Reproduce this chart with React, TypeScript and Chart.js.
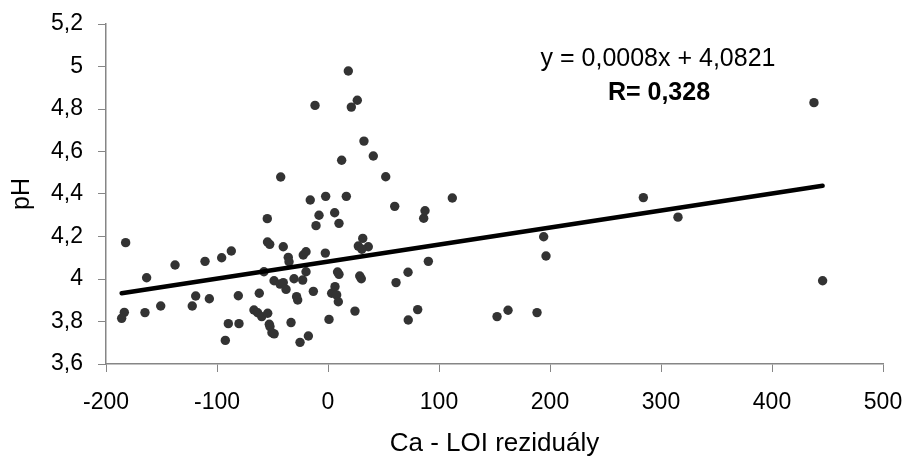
import React, { useEffect, useRef } from "react";
import { Chart, registerables } from "chart.js";

Chart.register(...registerables);

// Ca - LOI residuals (x) and pH (y)
const caResiduals = [
  -182.3, -183.5, -185.9, -163.4, -164.9, -150.7, -137.8, -122.3, -119.2, -110.8,
  -106.9, -95.8, -87.1, -89.8, -80.2, -92.5, -80.8, -66.7, -63.4, -61.9,
  -59.7, -57.7, -54.7, -54.5, -52.5, -54.3, -52.9, -52.3, -50.5, -48.5,
  -48.6, -43.2, -40.3, -42.6, -40.3, -35.8, -35.1, -37.8, -33.3, -30.6,
  -28.3, -27.3, -25.2, -22.8, -22.3, -19.8, -19.8, -17.7, -16.0, -13.2,
  -11.7, -10.8, -8.1, -2.4, -2.1, 0.9, 3.3, 6.3, 7.8, 9.3,
  6.0, 8.6, 9.9, 9.9, 12.3, 16.5, 18.3, 21.0, 26.4, 24.3,
  27.3, 28.6, 30.0, 31.3, 36.3, 30.5, 32.4, 40.8, 52.0, 60.1,
  61.3, 72.1, 72.3, 80.8, 86.2, 87.4, 90.4, 112.0, 152.3, 162.2,
  188.3, 194.3, 196.4, 284.1, 315.3, 437.8, 445.6,
];

const phValues = [
  4.171, 3.843, 3.815, 4.006, 3.842, 3.873, 4.066, 3.873, 3.92, 4.083,
  3.907, 4.1, 4.132, 3.79, 3.79, 3.711, 3.921, 3.854, 3.841, 3.933,
  3.823, 4.034, 4.284, 4.174, 4.163, 3.839, 3.787, 3.776, 3.747, 3.742,
  3.992, 3.976, 3.983, 4.48, 4.152, 4.102, 4.081, 3.951, 3.795, 4.001,
  3.917, 3.901, 3.702, 3.995, 4.113, 4.128, 4.034, 3.732, 4.372, 3.942,
  4.817, 4.251, 4.3, 4.122, 4.389, 3.81, 3.933, 3.964, 3.925, 3.893,
  4.312, 4.033, 4.022, 4.262, 4.559, 4.389, 4.979, 4.809, 4.841, 3.849,
  4.155, 4.014, 4.001, 4.191, 4.152, 4.14, 4.649, 4.579, 4.481, 4.342,
  3.983, 4.032, 3.807, 3.856, 4.286, 4.321, 4.083, 4.381, 3.823, 3.853,
  3.842, 4.199, 4.108, 4.383, 4.291, 4.83, 3.992,
];

const xTickValues = [-200, -100, 0, 100, 200, 300, 400, 500];
const yTickValues = [3.6, 3.8, 4.0, 4.2, 4.4, 4.6, 4.8, 5.0, 5.2];

const trendSlope = 0.0008;
const trendIntercept = 4.0821;
const equationLabel = "y = 0,0008x + 4,0821";
const rLabel = "R= 0,328";
const xAxisTitle = "Ca - LOI reziduály";
const yAxisTitle = "pH";

const FONT = 'Arial, "Liberation Sans", sans-serif';

const fmt = (v: number) => String(Math.round(v * 10) / 10).replace(".", ",");

export default function App() {
  const ref = useRef<HTMLCanvasElement | null>(null);

  useEffect(() => {
    const canvas = ref.current;
    if (!canvas) return;

    const points = caResiduals.map((x, i) => ({ x, y: phValues[i] }));
    const xMin = Math.min(...caResiduals);
    const xMax = Math.max(...caResiduals);
    const trend = [
      { x: xMin, y: trendSlope * xMin + trendIntercept },
      { x: xMax, y: trendSlope * xMax + trendIntercept },
    ];

    const equationPlugin = {
      id: "equation",
      afterDraw(chart: any) {
        const { ctx } = chart;
        ctx.save();
        ctx.fillStyle = "#000";
        ctx.textAlign = "center";
        ctx.textBaseline = "alphabetic";
        ctx.font = `25px ${FONT}`;
        ctx.fillText(equationLabel, 658, 66);
        ctx.font = `bold 25px ${FONT}`;
        ctx.fillText(rLabel, 659, 99.5);
        ctx.restore();
      },
    };

    const axisColor = "#868686";

    const chart = new Chart(canvas, {
      type: "scatter",
      data: {
        datasets: [
          {
            type: "line",
            data: trend,
            borderColor: "#000",
            borderWidth: 4.5,
            borderCapStyle: "round",
            pointRadius: 0,
            fill: false,
            tension: 0,
          } as any,
          {
            data: points,
            backgroundColor: "#333333",
            borderColor: "#333333",
            borderWidth: 0,
            pointRadius: 4.7,
            pointHoverRadius: 4.7,
          },
        ],
      },
      options: {
        responsive: false,
        maintainAspectRatio: false,
        animation: false,
        events: [],
        layout: { padding: { top: 24, right: 24, left: 0, bottom: 0 } },
        plugins: {
          legend: { display: false },
          tooltip: { enabled: false },
        },
        scales: {
          x: {
            type: "linear",
            min: -200,
            max: 500,
            afterBuildTicks: (scale: any) => {
              scale.ticks = xTickValues.map((value) => ({ value }));
            },
            ticks: {
              color: "#000",
              font: { family: FONT, size: 23 },
              padding: 17,
              maxRotation: 0,
              autoSkip: false,
              callback: (v: any) => fmt(Number(v)),
            },
            grid: {
              drawOnChartArea: false,
              drawTicks: true,
              tickLength: 8,
              color: axisColor,
            },
            border: { color: axisColor, width: 1.5 },
            title: {
              display: true,
              text: xAxisTitle,
              color: "#000",
              font: { family: FONT, size: 26 },
              padding: { top: 0, bottom: 0 },
            },
            afterFit: (scale: any) => {
              scale.height = 95;
              scale.paddingLeft = 0;
              scale.paddingRight = 0;
            },
          },
          y: {
            type: "linear",
            min: 3.6,
            max: 5.2,
            afterBuildTicks: (scale: any) => {
              scale.ticks = yTickValues.map((value) => ({ value }));
            },
            ticks: {
              color: "#000",
              font: { family: FONT, size: 23 },
              padding: 15,
              autoSkip: false,
              callback: (v: any) => fmt(Number(v)),
            },
            grid: {
              drawOnChartArea: false,
              drawTicks: true,
              tickLength: 8,
              color: axisColor,
            },
            border: { color: axisColor, width: 1.5 },
            title: {
              display: true,
              text: yAxisTitle,
              color: "#000",
              font: { family: FONT, size: 25 },
              padding: { top: 7, bottom: 0 },
            },
            afterFit: (scale: any) => {
              scale.width = 106;
              scale.paddingTop = 0;
              scale.paddingBottom = 0;
            },
          },
        },
      },
      plugins: [equationPlugin],
    });

    return () => chart.destroy();
  }, []);

  return (
    <div style={{ position: "fixed", left: 0, top: 0, width: 907, height: 459, background: "#fff" }}>
      <canvas ref={ref} width={907} height={459} style={{ display: "block" }} />
    </div>
  );
}
